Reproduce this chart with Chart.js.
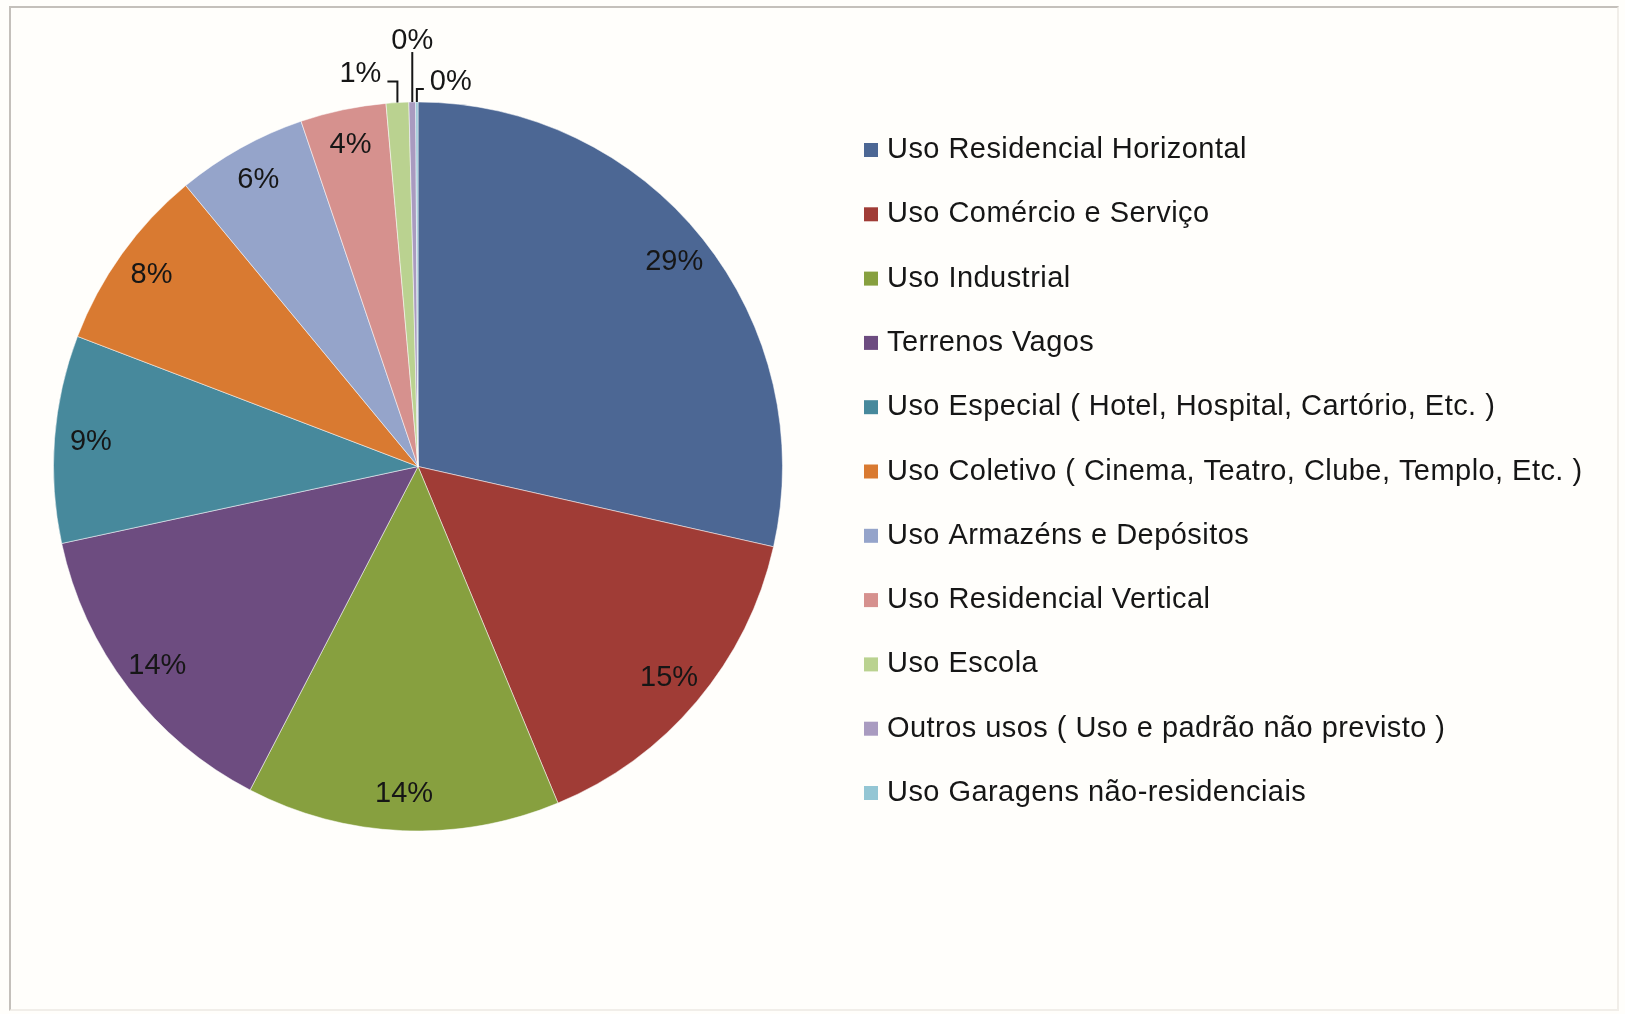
<!DOCTYPE html>
<html>
<head>
<meta charset="utf-8">
<script src="https://cdn.jsdelivr.net/npm/chart.js@4.4.0/dist/chart.umd.min.js"></script>
<style>
  html, body { margin: 0; padding: 0; background: #fffefb; }
  #wrap { position: relative; width: 1625px; height: 1014px; overflow: hidden; }
  #frame {
    position: absolute; left: 9px; top: 6px; width: 1606px; height: 1001px;
    border: 2px solid #c4c0bb; border-right-color: #f1eee9; border-bottom-color: #f1eee9;
  }
  canvas { position: absolute; left: 0; top: 0; }
</style>
</head>
<body>
<div id="wrap">
  <div id="frame"></div>
  <canvas id="pie" width="1625" height="1014"></canvas>
</div>
<script>
const categories = [
  'Uso Residencial Horizontal',
  'Uso Comércio e Serviço',
  'Uso Industrial',
  'Terrenos Vagos',
  'Uso Especial ( Hotel, Hospital, Cartório, Etc. )',
  'Uso Coletivo ( Cinema, Teatro, Clube, Templo, Etc. )',
  'Uso Armazéns e Depósitos',
  'Uso Residencial Vertical',
  'Uso Escola',
  'Outros usos ( Uso e padrão não previsto )',
  'Uso Garagens não-residenciais'
];
const shares = [28.55, 15.2, 13.9, 14.0, 9.2, 8.2, 5.8, 3.8, 1.0, 0.3, 0.1];
const sliceColors = [
  '#4c6794', '#a03c36', '#87a03f', '#6d4c80', '#47899c', '#d97a31',
  '#95a4ca', '#d6918e', '#bad290', '#a99bc0', '#94c6d4'
];

const FONT = '"Liberation Sans", Arial, sans-serif';

// percentage labels, with elbow leaders for the tiny slices
const sliceLabels = {
  id: 'sliceLabels',
  afterDatasetsDraw(chart, args, opts) {
    const ctx = chart.ctx;
    const data = chart.data.datasets[0].data;
    const total = data.reduce((a, b) => a + b, 0);
    ctx.save();
    ctx.font = opts.size + 'px ' + FONT;
    ctx.fillStyle = '#161616';
    ctx.strokeStyle = '#161616';
    ctx.lineWidth = 2;
    chart.getDatasetMeta(0).data.forEach((arc, i) => {
      const p = arc.getProps(['x', 'y', 'startAngle', 'endAngle', 'outerRadius'], true);
      const mid = (p.startAngle + p.endAngle) / 2;
      const text = Math.round(data[i] / total * 100) + '%';
      const c = opts.callouts[i];
      if (!c) {
        const r = p.outerRadius * opts.inset;
        ctx.textAlign = 'center';
        ctx.textBaseline = 'middle';
        ctx.fillText(text, p.x + Math.cos(mid) * r, p.y + Math.sin(mid) * r);
        return;
      }
      const x0 = p.x + Math.cos(mid) * p.outerRadius;
      const y0 = p.y + Math.sin(mid) * p.outerRadius;
      const y1 = y0 - c.rise;
      const x1 = x0 + c.run;
      ctx.beginPath();
      ctx.moveTo(x0, y0);
      ctx.lineTo(x0, y1);
      ctx.lineTo(x1, y1);
      ctx.stroke();
      ctx.textAlign = c.align;
      ctx.textBaseline = 'middle';
      ctx.fillText(text, x1 + c.tx, y1 + c.ty);
    });
    ctx.restore();
  }
};

// legend drawn at the right, Excel style
const sideLegend = {
  id: 'sideLegend',
  afterDraw(chart, args, opts) {
    const ctx = chart.ctx;
    const ds = chart.data.datasets[0];
    ctx.save();
    ctx.font = opts.size + 'px ' + FONT;
    ctx.letterSpacing = opts.spacing + 'px';
    ctx.textBaseline = 'middle';
    ctx.textAlign = 'left';
    chart.data.labels.forEach((label, i) => {
      const y = opts.top + i * opts.step;
      ctx.fillStyle = ds.backgroundColor[i];
      ctx.fillRect(opts.left, y - opts.box / 2, opts.box, opts.box);
      ctx.fillStyle = '#161616';
      ctx.fillText(label, opts.left + opts.box + opts.gap, y);
    });
    ctx.restore();
  }
};

new Chart(document.getElementById('pie'), {
  type: 'pie',
  data: {
    labels: categories,
    datasets: [{
      data: shares,
      backgroundColor: sliceColors,
      borderColor: 'rgba(255,255,255,0.5)',
      borderWidth: 1,
      hoverOffset: 0
    }]
  },
  options: {
    responsive: false,
    animation: false,
    events: [],
    layout: { padding: { left: 53, right: 842, top: 101, bottom: 182 } },
    plugins: {
      legend: { display: false },
      tooltip: { enabled: false },
      sliceLabels: {
        size: 29,
        inset: 0.9,
        callouts: {
          8: { rise: 21, run: -10, align: 'right', tx: -6, ty: -8 },
          9: { rise: 50, run: 0, align: 'center', tx: 0, ty: -11 },
          10: { rise: 13, run: 7, align: 'left', tx: 6, ty: -7 }
        }
      },
      sideLegend: { left: 864, top: 150, step: 64.3, box: 14, gap: 9, size: 29, spacing: 0.45 }
    }
  },
  plugins: [sliceLabels, sideLegend]
});
</script>
</body>
</html>
